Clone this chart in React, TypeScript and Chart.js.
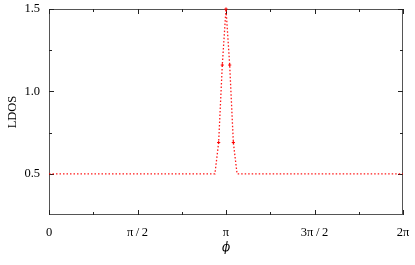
import React, { useEffect, useRef } from "react";
import { Chart, registerables } from "chart.js";

Chart.register(...registerables);

const PHI: number[] = [0, 2.945, 3.011, 3.076, 3.1416, 3.207, 3.272, 3.338, 6.2832];
const LDOS: number[] = [0.5, 0.5, 0.69, 1.16, 1.5, 1.16, 0.69, 0.5, 0.5];
const MARKED: boolean[] = [false, false, true, true, true, true, true, false, false];

const X_MAJOR: number[] = [0, Math.PI / 2, Math.PI, (3 * Math.PI) / 2, 2 * Math.PI];
const X_MINOR: number[] = [Math.PI / 4, (3 * Math.PI) / 4, (5 * Math.PI) / 4, (7 * Math.PI) / 4];
const X_LABELS: string[] = ["0", "π\u2009/\u20092", "π", "3π\u2009/\u20092", "2π"];
const Y_MAJOR: number[] = [0.5, 1.0, 1.5];
const Y_MINOR: number[] = [0.75, 1.25];

const FRAME = "#555555";

const framePlugin = {
  id: "frame",
  beforeDatasetsDraw(chart: any) {
    const { ctx, chartArea: a, scales } = chart;
    const x = scales.x;
    const y = scales.y;
    ctx.save();
    ctx.strokeStyle = FRAME;
    ctx.lineWidth = 1;
    ctx.strokeRect(a.left + 0.5, a.top + 0.5, a.right - a.left - 1, a.bottom - a.top - 1);
    const tick = (len: number, vals: number[], horiz: boolean) => {
      vals.forEach((v) => {
        ctx.beginPath();
        if (horiz) {
          const px = Math.round(x.getPixelForValue(v)) + 0.5;
          ctx.moveTo(px, a.bottom);
          ctx.lineTo(px, a.bottom - len);
          ctx.moveTo(px, a.top);
          ctx.lineTo(px, a.top + len);
        } else {
          const py = Math.round(y.getPixelForValue(v)) + 0.5;
          ctx.moveTo(a.left, py);
          ctx.lineTo(a.left + len, py);
          ctx.moveTo(a.right, py);
          ctx.lineTo(a.right - len, py);
        }
        ctx.stroke();
      });
    };
    ctx.strokeStyle = "#222";
    tick(5, X_MAJOR, true);
    tick(3, X_MINOR, true);
    tick(5, Y_MAJOR, false);
    tick(3, Y_MINOR, false);
    ctx.restore();
  },
};

export default function App() {
  const ref = useRef<HTMLCanvasElement>(null);
  useEffect(() => {
    document.body.style.margin = "0";
    const chart = new Chart(ref.current!, {
      type: "line",
      data: {
        datasets: [
          {
            data: PHI.map((p, i) => ({ x: p, y: LDOS[i] })),
            borderColor: "rgba(255,0,0,0.9)",
            backgroundColor: "#ff0000",
            borderWidth: 1.3,
            borderDash: [1.5, 2],
            pointStyle: "cross",
            pointRadius: (c: any) => (MARKED[c.dataIndex] ? 1.6 : 0),
            pointBorderColor: "#ff0000",
            pointBorderWidth: 1,
            tension: 0,
            clip: 6,
          } as any,
        ],
      },
      options: {
        animation: false,
        responsive: true,
        maintainAspectRatio: false,
        layout: { padding: { top: 9, right: 12, left: 0, bottom: 0 } },
        plugins: { legend: { display: false }, tooltip: { enabled: false } },
        scales: {
          x: {
            type: "linear",
            min: 0,
            max: 2 * Math.PI,
            grid: { display: false, drawTicks: false },
            border: { display: false },
            afterBuildTicks: (s: any) => {
              s.ticks = X_MAJOR.map((v) => ({ value: v }));
            },
            afterFit: (s: any) => {
              s.height = 50;
              s.paddingLeft = 0;
              s.paddingRight = 0;
            },
            ticks: {
              autoSkip: false,
              maxRotation: 0,
              padding: 10,
              color: "#000",
              font: { family: "Liberation Serif", size: 12.5 },
              callback: (_v: any, i: number) => X_LABELS[i],
            },
            title: {
              display: true,
              text: "ϕ",
              color: "#000",
              font: { family: "DejaVu Serif", size: 12, style: "italic" },
              padding: { top: 0, bottom: 10 },
            },
          },
          y: {
            type: "linear",
            min: 0.25,
            max: 1.5,
            grid: { display: false, drawTicks: false },
            border: { display: false },
            afterBuildTicks: (s: any) => {
              s.ticks = Y_MAJOR.map((v) => ({ value: v }));
            },
            afterFit: (s: any) => {
              s.width = 49;
              s.paddingTop = 0;
              s.paddingBottom = 0;
            },
            ticks: {
              padding: 9,
              color: "#000",
              font: { family: "Liberation Serif", size: 12.5 },
              callback: (v: any) => Number(v).toFixed(1),
            },
            title: {
              display: true,
              text: "LDOS",
              color: "#000",
              font: { family: "Liberation Serif", size: 12.5 },
              padding: { top: 5, bottom: 0 },
            },
          },
        },
      },
      plugins: [framePlugin],
    });
    return () => chart.destroy();
  }, []);
  return (
    <div style={{ position: "absolute", left: 0, top: 0, width: 415, height: 265 }}>
      <canvas ref={ref} />
    </div>
  );
}
